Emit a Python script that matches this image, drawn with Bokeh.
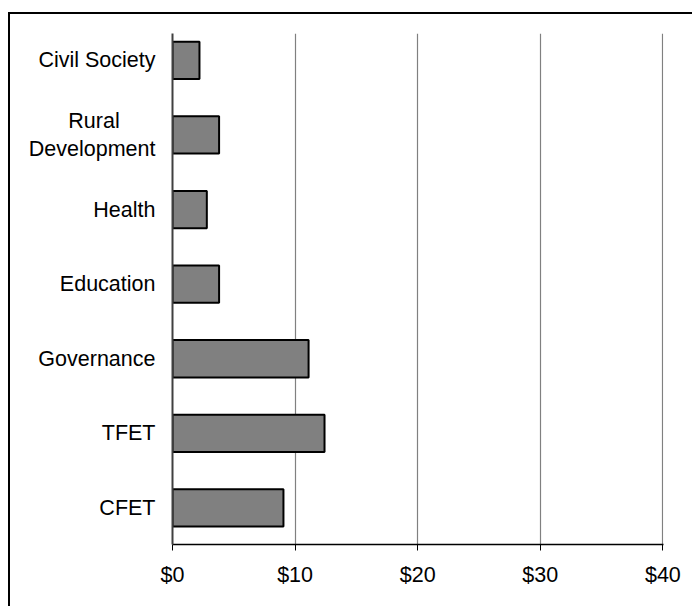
import numpy as np
from bokeh.plotting import figure
from bokeh.models import Range1d, FixedTicker, ColumnDataSource
from bokeh.embed import file_html
from bokeh.resources import INLINE

# Data (top to bottom in the picture)
categories = ["Civil Society", "Rural\u00a0\u00a0\u00a0\u00a0\u00a0\u00a0\nDevelopment",
              "Health", "Education", "Governance", "TFET", "CFET"]
values = [2.2, 3.8, 2.8, 3.8, 11.1, 12.4, 9.05]
x_ticks = [0, 10, 20, 30, 40]
x_tick_labels = ["$0", "$10", "$20", "$30", "$40"]

# bottom-to-top positions
cats_bt = categories[::-1]
vals_bt = values[::-1]
pos = list(range(len(cats_bt)))

src = ColumnDataSource(dict(y=pos, v=vals_bt))

p = figure(width=684, height=594, output_backend="svg", toolbar_location=None,
           x_range=Range1d(0, 40.05), y_range=Range1d(-0.49, 6.36),
           min_border_left=162, min_border_right=31, min_border_top=19,
           min_border_bottom=64)
p.styles = {"border-left": "2px solid black", "border-top": "2px solid black",
            "margin-top": "12px", "margin-left": "8px"}
p.outline_line_color = None
p.background_fill_color = "white"

p.hbar(y="y", right="v", left=0, height=0.5, source=src,
       fill_color="#808080", line_color="black", line_width=2)

font = "Liberation Sans"
fs = "21.5px"

# x axis
p.xaxis.ticker = FixedTicker(ticks=x_ticks)
p.xaxis.major_label_overrides = {t: l for t, l in zip(x_ticks, x_tick_labels)}
p.xaxis.axis_line_color = "black"
p.xaxis.axis_line_width = 1.5
p.xaxis.major_tick_out = 6
p.xaxis.major_tick_in = 0
p.xaxis.major_tick_line_color = "black"
p.xaxis.minor_tick_line_color = None
p.xaxis.major_label_standoff = 12
p.xaxis.major_label_text_font = font
p.xaxis.major_label_text_font_size = fs
p.xaxis.major_label_text_color = "black"

# y axis
p.yaxis.ticker = FixedTicker(ticks=pos)
p.yaxis.major_label_overrides = {i: c for i, c in zip(pos, cats_bt)}
p.yaxis.axis_line_color = "#404040"
p.yaxis.axis_line_width = 2
p.yaxis.major_tick_line_color = None
p.yaxis.minor_tick_line_color = None
p.yaxis.major_label_standoff = 11
p.yaxis.major_label_text_font = font
p.yaxis.major_label_text_font_size = fs
p.yaxis.major_label_text_color = "black"

# grid
p.xgrid.ticker = FixedTicker(ticks=x_ticks)
p.xgrid.grid_line_color = "#808080"
p.xgrid.grid_line_width = 1.2
p.ygrid.grid_line_color = None

open("out.html", "w").write(file_html(p, INLINE))
